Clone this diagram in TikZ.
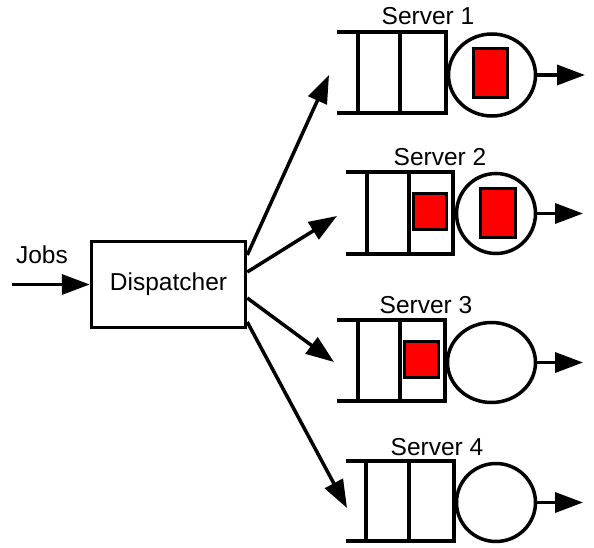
\documentclass[tikz,border=0pt]{standalone}
\usepackage{fontspec}
\setmainfont{Liberation Sans}
\usetikzlibrary{arrows.meta,shapes.geometric}

\begin{document}
\begin{tikzpicture}[x=1pt,y=-1pt,line width=3.5pt,
  font=\fontsize{24.5}{28}\selectfont,
  arr/.style={-{Triangle[length=28pt,width=20pt]}},
  job/.style={draw,fill=red,line width=3.5pt,inner sep=0pt},
  srv/.style={draw,ellipse,line width=3.5pt,inner sep=0pt}]
\useasboundingbox (0,0) rectangle (594,548);

\node[draw,minimum width=154pt,minimum height=86pt] (d) at (168.5,284.5) {Dispatcher};
\node[anchor=base] (jobs) at (42,263) {Jobs};
\coordinate (in) at (12,284.5);
\path[draw,arr] (in) -- (d.west);

% server 1
\node[anchor=base] (l1) at (428,25) {Server 1};
\draw (337,32) -- (446,32) -- (446,113) -- (337,113);
\draw (358,32) -- (358,113);
\draw (400,32) -- (400,113);
\node[srv,minimum width=87pt,minimum height=82pt] (s1) at (492,75) {};
\node[job,minimum width=34pt,minimum height=49pt] (r1) at (490.5,73) {};
\coordinate (o1) at (585,75);
\path[draw,arr] (s1.east) -- (o1);

% server 2
\node[anchor=base] (l2) at (440,166) {Server 2};
\draw (346,172) -- (453,172) -- (453,254) -- (346,254);
\draw (367,172) -- (367,254);
\draw (409,172) -- (409,254);
\node[job,minimum width=33pt,minimum height=36pt] (q2) at (430,211.5) {};
\node[srv,minimum width=79pt,minimum height=80pt] (s2) at (496,213.5) {};
\node[job,minimum width=35pt,minimum height=49pt] (r2) at (498,213) {};
\coordinate (o2) at (583,213.5);
\path[draw,arr] (s2.east) -- (o2);

% server 3
\node[anchor=base] (l3) at (426,313) {Server 3};
\draw (337,320) -- (445,320) -- (445,401) -- (337,401);
\draw (358,320) -- (358,401);
\draw (400,320) -- (400,401);
\node[job,minimum width=34pt,minimum height=36pt] (q3) at (421.5,359.5) {};
\node[srv,minimum width=88pt,minimum height=80pt] (s3) at (491.5,362.5) {};
\coordinate (o3) at (583,362.5);
\path[draw,arr] (s3.east) -- (o3);

% server 4
\node[anchor=base] (l4) at (437,455) {Server 4};
\draw (346,461) -- (454,461) -- (454,541) -- (346,541);
\draw (366,461) -- (366,541);
\draw (409,461) -- (409,541);
\node[srv,minimum width=79pt,minimum height=78pt] (s4) at (496,502.5) {};
\coordinate (o4) at (583,502.5);
\path[draw,arr] (s4.east) -- (o4);

% dispatching
\coordinate (e1) at (329,75);
\coordinate (e2) at (337,216);
\coordinate (e3) at (334,362);
\coordinate (e4) at (347,508);
\path[draw,arr] ([yshift=29.5pt]d.east) -- (e1);
\path[draw,arr] ([yshift=12.5pt]d.east) -- (e2);
\path[draw,arr] ([yshift=-13.5pt]d.east) -- (e3);
\path[draw,arr] ([yshift=-37.5pt]d.east) -- (e4);
\end{tikzpicture}
\end{document}
